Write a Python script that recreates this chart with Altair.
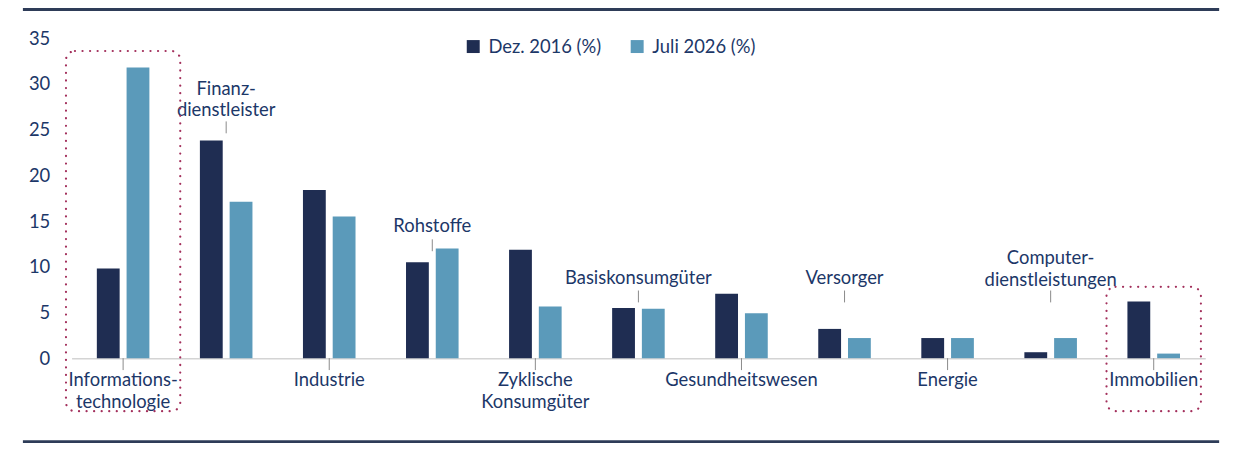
import pandas as pd
import altair as alt

# Sektoranteile in %, Dez. 2016 vs. Juli 2026
sektoren = [
    "Informations-\ntechnologie", "Finanz-\ndienstleister", "Industrie", "Rohstoffe",
    "Zyklische\nKonsumgüter", "Basiskonsumgüter", "Gesundheitswesen", "Versorger",
    "Energie", "Computer-\ndienstleistungen", "Immobilien",
]
serien = ["Dez. 2016 (%)", "Juli 2026 (%)"]
dez_2016 = [9.8, 23.8, 18.4, 10.5, 11.85, 5.5, 7.05, 3.2, 2.2, 0.65, 6.2]
juli_2026 = [31.8, 17.1, 15.5, 12.0, 5.65, 5.4, 4.9, 2.2, 2.2, 2.2, 0.5]

# Beschriftungen oberhalb der Balken: Höhe (in %) des Hinweisstrichs
oben_sektoren = ["Finanz-\ndienstleister", "Rohstoffe", "Basiskonsumgüter", "Versorger", "Computer-\ndienstleistungen"]
oben_hoehe = [24.6, 11.7, 6.1, 6.1, 6.1]

# Hervorgehobene Sektoren (gepunkteter Rahmen), Oberkante in %
rahmen_sektoren = ["Informations-\ntechnologie", "Immobilien"]
rahmen_oben = [33.6, 7.8]

W, H = 1141, 322
NAVY, HELLBLAU = "#1f2d52", "#5b9aba"
TEXT = "#1c3768"
FONT = "Lato"
FS = 18.5

werte = pd.DataFrame({"sektor": sektoren, serien[0]: dez_2016, serien[1]: juli_2026})
lang = werte.melt(id_vars="sektor", var_name="serie", value_name="wert")

unten = pd.DataFrame({"sektor": [s for s in sektoren if s not in oben_sektoren]})
oben = pd.DataFrame({"sektor": oben_sektoren, "hoehe": oben_hoehe})
oben["zeilen"] = oben["sektor"].str.count("\n") + 1
rahmen = pd.DataFrame({"sektor": rahmen_sektoren, "oben": rahmen_oben})

x_enc = alt.X("sektor:N", sort=sektoren, title=None,
              scale=alt.Scale(paddingInner=0.49, paddingOuter=0.245),
              axis=alt.Axis(labels=False, ticks=False, domainColor="#d4d4d4", domainWidth=1.5))

balken = alt.Chart(lang).mark_bar().encode(
    x=x_enc,
    xOffset=alt.XOffset("serie:N", sort=serien, scale=alt.Scale(paddingInner=0.233)),
    y=alt.Y("wert:Q", title=None, scale=alt.Scale(domain=[0, 35], nice=False),
            axis=alt.Axis(values=[0, 5, 10, 15, 20, 25, 30, 35], domain=False, ticks=False,
                          grid=False, labelPadding=22, labelFontSize=FS, labelColor=TEXT,
                          labelFont=FONT)),
    color=alt.Color("serie:N", sort=serien,
                    scale=alt.Scale(domain=serien, range=[NAVY, HELLBLAU]),
                    legend=alt.Legend(orient="none", legendX=395, legendY=-1, direction="horizontal",
                                      title=None, symbolType="square", symbolSize=170,
                                      symbolStrokeWidth=0, labelFontSize=FS, labelFont=FONT,
                                      labelColor=TEXT, columnPadding=26, labelOffset=6)),
)

# Striche und Beschriftungen unter der Achse
striche_unten = alt.Chart(unten).mark_rule(color="#8a8a8a", strokeWidth=1).encode(
    x=alt.X("sektor:N", sort=sektoren), y=alt.value(H), y2=alt.value(H + 12)
)
text_unten = alt.Chart(unten).mark_text(
    baseline="top", lineBreak="\n", lineHeight=22, fontSize=FS, font=FONT, color=TEXT, dy=1
).encode(x=alt.X("sektor:N", sort=sektoren), y=alt.value(H + 12), text="sektor:N")

# Striche und Beschriftungen oberhalb der Balken
striche_oben = alt.Chart(oben).transform_calculate(spitze="datum.hoehe + 1.3").mark_rule(
    color="#8a8a8a", strokeWidth=1
).encode(x=alt.X("sektor:N", sort=sektoren), y="hoehe:Q", y2="spitze:Q")

def text_oben(zeilen):
    # mehrzeilige Texte wachsen nach unten, daher um eine Zeile anheben
    return alt.Chart(oben).transform_filter(f"datum.zeilen == {zeilen}").transform_calculate(
        spitze="datum.hoehe + 1.3"
    ).mark_text(
        baseline="bottom", lineBreak="\n", lineHeight=22, fontSize=FS, font=FONT, color=TEXT,
        dy=-3 - 20 * (zeilen - 1)
    ).encode(x=alt.X("sektor:N", sort=sektoren), y="spitze:Q", text="sektor:N")

# gepunktete Rahmen
def rahmen_layer(sektor, breite):
    return alt.Chart(rahmen[rahmen.sektor == sektor]).mark_bar(
        width=breite, fillOpacity=0, stroke="#a3305c", strokeWidth=2.2,
        strokeDash=[0.1, 7.5], strokeCap="round", cornerRadius=9
    ).encode(x=alt.X("sektor:N", sort=sektoren), y="oben:Q", y2=alt.datum(-5.8))

# Linien oben und unten
linie_daten = pd.DataFrame({"a": [0]})
linie_oben = alt.Chart(linie_daten).mark_rule(color="#2e3c58", strokeWidth=3).encode(
    x=alt.value(-49), x2=alt.value(1155), y=alt.value(-29)
)
linie_unten = alt.Chart(linie_daten).mark_rule(color="#2e3c58", strokeWidth=3).encode(
    x=alt.value(-49), x2=alt.value(1155), y=alt.value(406)
)

chart = alt.layer(
    balken, striche_unten, text_unten, striche_oben, text_oben(1), text_oben(2),
    rahmen_layer(rahmen_sektoren[0], 115), rahmen_layer(rahmen_sektoren[1], 95),
    linie_oben, linie_unten,
).properties(
    width=W, height=H,
    autosize=alt.AutoSizeParams(type="none"),
    padding={"left": 64, "top": 29, "right": 37, "bottom": 90},
).configure_view(strokeWidth=0)

chart.save("out.html", embed_options={"renderer": "svg", "actions": False})
